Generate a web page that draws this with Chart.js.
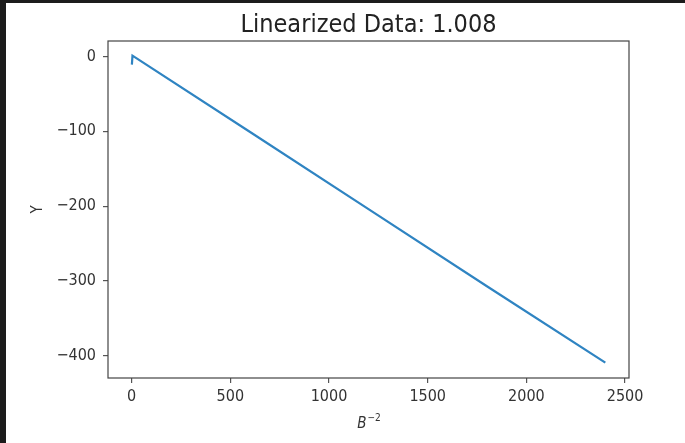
<!DOCTYPE html>
<html>
<head>
<meta charset="utf-8">
<script src="https://cdn.jsdelivr.net/npm/chart.js@4"></script>
<style>
  html, body { margin: 0; padding: 0; background: #1c1c1c; }
  #wrap { position: absolute; left: 0; top: 0; width: 685px; height: 443px; }
</style>
</head>
<body>
<div id="wrap"><canvas id="myChart" width="685" height="443"></canvas></div>
<script>
// data
const bInvSquared = [1, 4, 600, 1200, 1800, 2400];
const yValues = [-11, 1, -101, -204, -307, -409];
const xTicks = [0, 500, 1000, 1500, 2000, 2500];
const yTicks = [0, -100, -200, -300, -400];

const FONT = '"DejaVu Sans Condensed", "DejaVu Sans", sans-serif';
const TEXT = '#333333';

const points = bInvSquared.map((x, i) => ({ x: x, y: yValues[i] }));
const minus = v => String(v).replace('-', '\u2212');

// white page, frame and the text matplotlib puts round the axes
const decor = {
  id: 'decor',
  beforeDraw(chart) {
    const c = chart.ctx;
    c.save();
    c.fillStyle = '#1c1c1c';
    c.fillRect(0, 0, chart.width, chart.height);
    c.fillStyle = '#ffffff';
    c.fillRect(6, 3, chart.width - 6, chart.height - 3);
    c.restore();
  },
  afterDraw(chart) {
    const c = chart.ctx;
    const a = chart.chartArea;
    const cx = (a.left + a.right) / 2;
    c.save();
    c.strokeStyle = '#444444';
    c.lineWidth = 1.2;
    c.strokeRect(a.left, a.top, a.right - a.left, a.bottom - a.top);

    c.fillStyle = '#222222';
    c.textAlign = 'center';
    c.textBaseline = 'alphabetic';
    c.font = '25px ' + FONT;
    c.fillText('Linearized Data: 1.008', cx, 32);

    // y label
    c.fillStyle = TEXT;
    c.font = '15px ' + FONT;
    c.translate(42, (a.top + a.bottom) / 2);
    c.rotate(-Math.PI / 2);
    c.textBaseline = 'alphabetic';
    c.fillText('Y', 0, 0);
    c.restore();

    // x label B^-2
    c.save();
    c.fillStyle = TEXT;
    c.textBaseline = 'alphabetic';
    c.font = 'italic 15px ' + FONT;
    const bw = c.measureText('B').width;
    c.font = '10px ' + FONT;
    const sw = c.measureText('\u22122').width;
    const x0 = cx - (bw + sw) / 2;
    c.font = 'italic 15px ' + FONT;
    c.textAlign = 'left';
    c.fillText('B', x0, 428);
    c.font = '10px ' + FONT;
    c.fillText('\u22122', x0 + bw + 1, 421);
    c.restore();
  }
};

const ctx = document.getElementById('myChart').getContext('2d');
new Chart(ctx, {
  type: 'line',
  data: {
    datasets: [{
      data: points,
      borderColor: '#2f84c2',
      borderWidth: 2.2,
      pointRadius: 0,
      fill: false,
      tension: 0
    }]
  },
  options: {
    responsive: false,
    animation: false,
    events: [],
    layout: { padding: { top: 41, right: 56, bottom: 0, left: 0 } },
    plugins: { legend: { display: false }, title: { display: false }, tooltip: { enabled: false } },
    scales: {
      x: {
        type: 'linear',
        min: -120,
        max: 2520,
        afterBuildTicks: s => { s.ticks = xTicks.map(v => ({ value: v })); },
        afterFit: s => { s.height = 65; },
        grid: { display: true, drawOnChartArea: false, drawTicks: true, tickLength: 5, color: '#555555', lineWidth: 1.2 },
        border: { display: false },
        ticks: {
          color: TEXT,
          font: { family: FONT, size: 16 },
          padding: 4,
          maxRotation: 0,
          callback: v => minus(v)
        }
      },
      y: {
        type: 'linear',
        min: -429.5,
        max: 20.5,
        afterBuildTicks: s => { s.ticks = yTicks.map(v => ({ value: v })); },
        afterFit: s => { s.width = 108; },
        grid: { display: true, drawOnChartArea: false, drawTicks: true, tickLength: 5, color: '#555555', lineWidth: 1.2 },
        border: { display: false },
        ticks: {
          color: TEXT,
          font: { family: FONT, size: 16 },
          padding: 7,
          callback: v => minus(v)
        }
      }
    }
  },
  plugins: [decor]
});
</script>
</body>
</html>
